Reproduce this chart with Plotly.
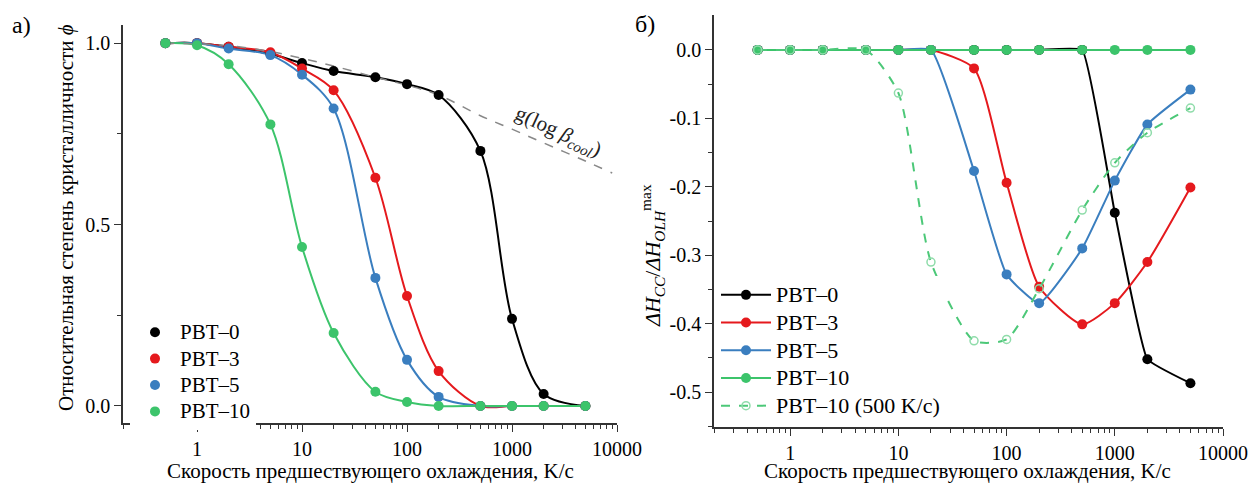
import plotly.graph_objects as go

# cooling rates, K/s
rates = [0.5, 1, 2, 5, 10, 20, 50, 100, 200, 500, 1000, 2000, 5000]

# panel a) relative crystallinity
phi_pbt0 = [1.0, 1.0, 0.99, 0.97, 0.945, 0.923, 0.906, 0.887, 0.857, 0.703, 0.240, 0.033, 0.0]
phi_pbt3 = [1.0, 1.0, 0.99, 0.975, 0.93, 0.87, 0.629, 0.303, 0.096, 0.0, 0.0, 0.0, 0.0]
phi_pbt5 = [1.0, 1.0, 0.985, 0.967, 0.913, 0.82, 0.353, 0.127, 0.025, 0.0, 0.0, 0.0, 0.0]
phi_pbt10 = [1.0, 0.994, 0.942, 0.776, 0.438, 0.201, 0.039, 0.011, 0.0, 0.0, 0.0, 0.0, 0.0]

# dashed g(log beta) line
g_rates = [0.5, 1, 2, 5, 10, 20, 50, 100, 200, 500, 1000, 2000, 5000, 9000]
g_values = [1.0, 0.998, 0.993, 0.977, 0.958, 0.937, 0.906, 0.884, 0.857, 0.80, 0.763, 0.725, 0.675, 0.642]

# panel b) dH_cc / dH_olh^max
dh_pbt0 = [0, 0, 0, 0, 0, 0, 0, 0, 0, 0, -0.238, -0.452, -0.487]
dh_pbt3 = [0, 0, 0, 0, 0, 0, -0.027, -0.194, -0.346, -0.401, -0.370, -0.310, -0.201]
dh_pbt5 = [0, 0, 0, 0, 0, 0, -0.177, -0.328, -0.370, -0.290, -0.191, -0.109, -0.058]
dh_pbt10 = [0, 0, 0, 0, 0, 0, 0, 0, 0, 0, 0, 0, 0]
dh_pbt10_500 = [0, 0, 0, 0, -0.063, -0.310, -0.425, -0.423, -0.349, -0.234, -0.165, -0.121, -0.085]

names = ['PBT\u20130', 'PBT\u20133', 'PBT\u20135', 'PBT\u201310']
colors = ['#000000', '#e5191d', '#3a7ebf', '#3cc46b']
smooth_right = [0.3, 0.6, 0.45, 0.6]

W, H = 1251, 488
W_EFF = 1226  # width the page actually lays the figure out at
FONT = '"Liberation Serif", "Times New Roman", "DejaVu Serif", serif'


def px(x):
    return x / W_EFF


def py(y):
    return 1 - y / H


def big(name, size):
    # legend row spacing follows the legend font, the label itself is drawn larger
    return '<span style="font-size:%dpx">%s</span>' % (size, name)


fig = go.Figure()

# left panel: fitted curves first, then the points
for vals, c in zip([phi_pbt0, phi_pbt3, phi_pbt5, phi_pbt10], colors):
    fig.add_trace(go.Scatter(x=rates, y=vals, mode='lines', line=dict(color=c, width=2, shape='spline', smoothing=0.9),
                             showlegend=False, xaxis='x', yaxis='y'))
fig.add_trace(go.Scatter(x=g_rates, y=g_values, mode='lines', line=dict(color='#888888', width=1.5, dash='dash', shape='spline'),
                         showlegend=False, xaxis='x', yaxis='y'))
for vals, c, n in zip([phi_pbt0, phi_pbt3, phi_pbt5, phi_pbt10], colors, names):
    fig.add_trace(go.Scatter(x=rates, y=vals, mode='markers', name=big(n, 21), marker=dict(color=c, size=10),
                             legend='legend', xaxis='x', yaxis='y'))

# right panel
for vals, c, n, s in zip([dh_pbt0, dh_pbt3, dh_pbt5, dh_pbt10], colors, names, smooth_right):
    fig.add_trace(go.Scatter(x=rates, y=vals, mode='lines+markers', name=big(n, 22),
                             line=dict(color=c, width=2, shape='spline', smoothing=s),
                             marker=dict(color=c, size=10), legend='legend2', xaxis='x2', yaxis='y2'))
fig.add_trace(go.Scatter(x=rates, y=dh_pbt10_500, mode='lines+markers', name=big('PBT\u201310 (500 K/c)', 22),
                         line=dict(color='#4cc878', width=2, dash='dash', shape='spline', smoothing=0.65),
                         marker=dict(symbol='circle-open', color='#8fdcaa', size=8, line=dict(width=1.5)),
                         legend='legend2', xaxis='x2', yaxis='y2'))

major = [1, 10, 100, 1000, 10000]
minor = [m * d for d in [0.1, 1, 10, 100, 1000] for m in range(2, 10) if m * d >= 0.2]

xaxis_common = dict(
    type='log', tickvals=major, ticktext=['1', '10', '100', '1000', '10000'],
    ticks='outside', ticklen=7, tickwidth=1.2, tickcolor='#333', showline=True, linecolor='#333', linewidth=1.5,
    showgrid=False, zeroline=False, tickfont=dict(family=FONT, size=20, color='black'),
    minor=dict(tickvals=minor, ticks='outside', ticklen=4, tickcolor='#333', showgrid=False),
)
yaxis_common = dict(
    ticks='outside', ticklen=7, tickwidth=1.2, tickcolor='#333', showline=True, linecolor='#333', linewidth=1.5,
    showgrid=False, zeroline=False, tickfont=dict(family=FONT, size=20, color='black'),
)

fig.update_layout(
    width=W, height=H, margin=dict(l=0, r=0, t=0, b=0), autosize=False,
    paper_bgcolor='white', plot_bgcolor='white',
    font=dict(family=FONT, size=20, color='black'),
    xaxis=dict(domain=[px(123), px(617)], range=[-0.705, 4.0], anchor='y', **xaxis_common),
    yaxis=dict(domain=[py(423), py(25)], range=[-0.047, 1.05], anchor='x',
               tickvals=[0, 0.5, 1.0], ticktext=['0.0', '0.5', '1.0'],
               minor=dict(tickvals=[0.25, 0.75], ticks='outside', ticklen=4, tickcolor='#333'), **yaxis_common),
    xaxis2=dict(domain=[px(714), px(1223)], range=[-0.704, 4.0], anchor='y2', **xaxis_common),
    yaxis2=dict(domain=[py(427), py(15)], range=[-0.551, 0.051], anchor='x2',
                tickvals=[0, -0.1, -0.2, -0.3, -0.4, -0.5], ticktext=['0.0', '-0.1', '-0.2', '-0.3', '-0.4', '-0.5'],
                minor=dict(tickvals=[-0.05, -0.15, -0.25, -0.35, -0.45, -0.55], ticks='outside', ticklen=4, tickcolor='#333'),
                **yaxis_common),
    legend=dict(x=px(130), y=py(314), xanchor='left', yanchor='top', bgcolor='white',
                font=dict(family=FONT, size=18), tracegroupgap=0, itemwidth=40),
    legend2=dict(x=px(716), y=py(276), xanchor='left', yanchor='top', bgcolor='white',
                 font=dict(family=FONT, size=19), tracegroupgap=0, itemwidth=50),
)

annotations = [
    dict(x=px(22), y=py(25), text='а)', font=dict(size=24)),
    dict(x=px(645), y=py(24), text='б)', font=dict(size=24)),
    dict(x=px(370), y=py(471), text='Скорость предшествующего охлаждения, K/c', font=dict(size=21)),
    dict(x=px(967), y=py(471), text='Скорость предшествующего охлаждения, K/c', font=dict(size=21)),
    dict(x=px(66), y=py(218), text='Относительная степень кристалличности <i>ϕ</i>', textangle=-90, font=dict(size=21)),
    dict(x=px(652), y=py(255), textangle=-90, font=dict(size=22),
         text='<i>ΔH</i><sub><i>CC</i></sub>/<i>ΔH</i><sub><i>OLH</i></sub><sup>max</sup>'),
    dict(x=px(558), y=py(132), text='g(log <i>β</i><sub><i>cool</i></sub>)', textangle=25,
         font=dict(size=21, color='#222')),
]
for a in annotations:
    a.update(xref='paper', yref='paper', showarrow=False, xanchor='center', yanchor='middle')
    a['font'].setdefault('family', FONT)
    a['font'].setdefault('color', 'black')
fig.update_layout(annotations=annotations)

fig.write_html('out.html', config={'responsive': False, 'displayModeBar': False},
               post_script="document.body.style.margin='0';")
